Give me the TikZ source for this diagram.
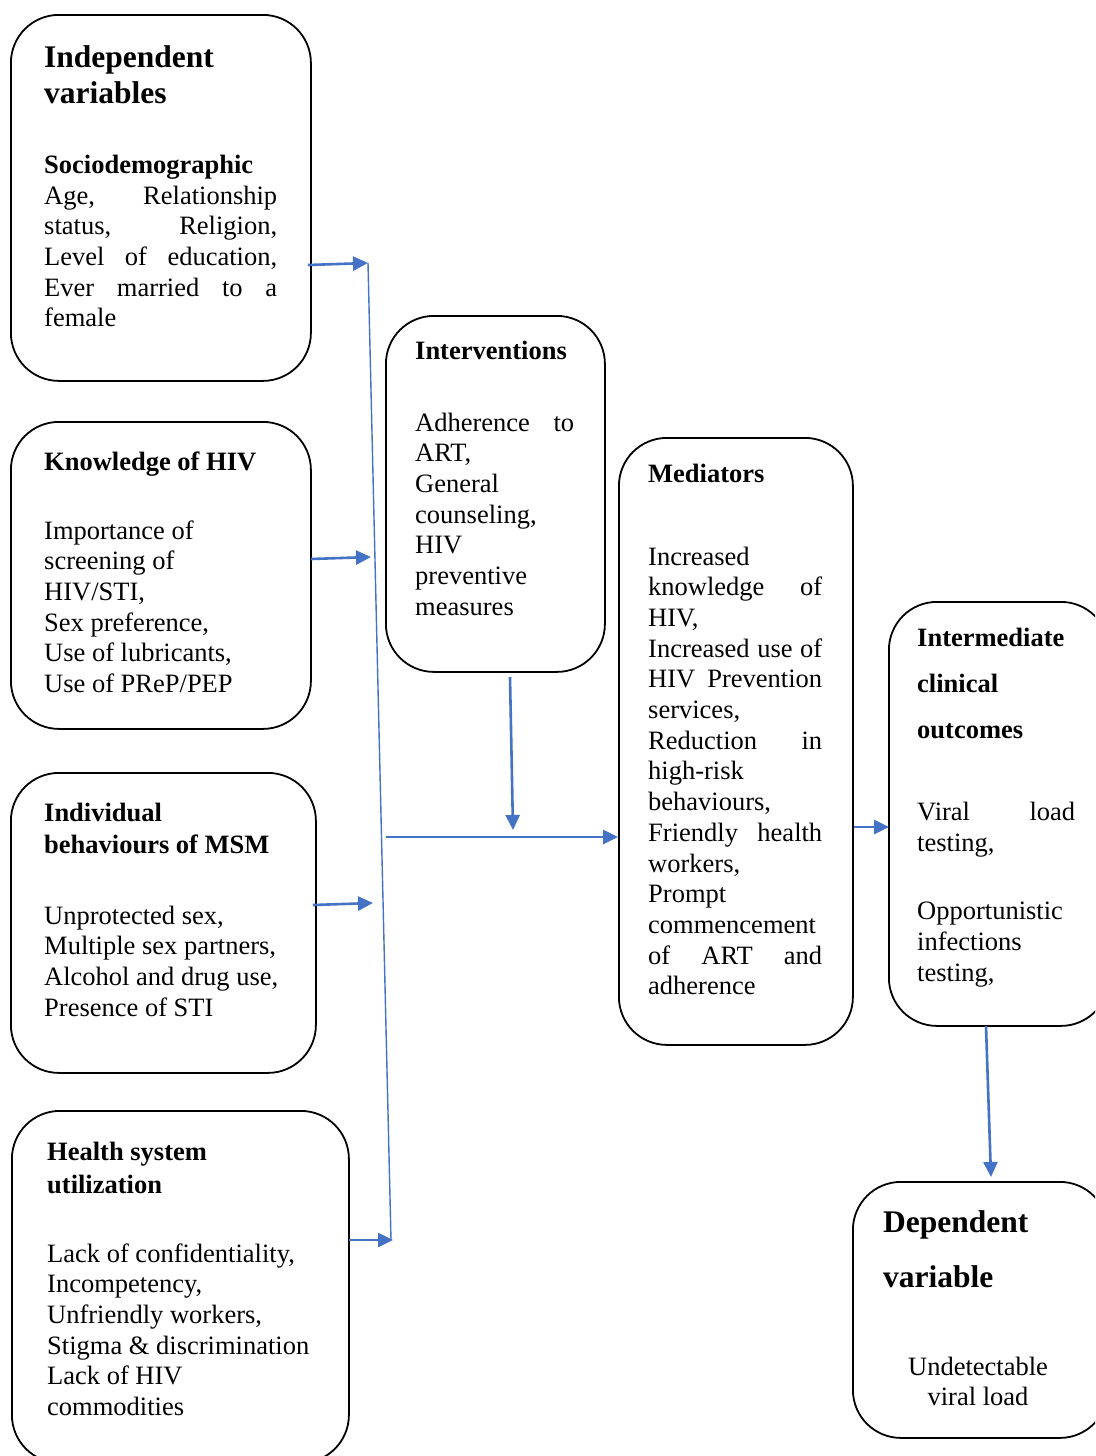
\documentclass[tikz,border=0pt]{standalone}
\usepackage{fontspec}
\setmainfont{Liberation Serif}
\usetikzlibrary{arrows.meta}
\definecolor{arrblue}{HTML}{4472C4}
\tikzset{
  box/.style={draw=black, line width=1.8pt, rounded corners=48pt, anchor=north west, inner sep=0pt},
  body/.style={anchor=base west, inner sep=0pt, font=\fontsize{26.5}{30.7}\selectfont},
  hd/.style={anchor=base west, inner sep=0pt, font=\fontsize{26.5}{30.7}\selectfont\bfseries},
  bighd/.style={anchor=base west, inner sep=0pt, font=\fontsize{31.5}{36}\selectfont\bfseries},
  conn/.style={draw=arrblue, line width=2.6pt, -{Triangle[length=15pt,width=14pt]}},
  thinconn/.style={draw=arrblue, line width=1.4pt},
}
\begin{document}
\begin{tikzpicture}[x=1pt,y=-1pt]
\clip (0,0) rectangle (1095,1456);
\fill[white] (0,0) rectangle (1095,1456);
% boxes
\node[box, minimum width=300pt, minimum height=366pt] (indep) at (10,14) {};
\node[box, minimum width=300pt, minimum height=307pt] (know) at (10,421) {};
\node[box, minimum width=305pt, minimum height=300pt] (indiv) at (10,772) {};
\node[box, minimum width=337pt, minimum height=352pt] (health) at (11,1110) {};
\node[box, minimum width=219pt, minimum height=356pt] (interv) at (385,315) {};
\node[box, minimum width=234pt, minimum height=607pt] (medi) at (618,437) {};
\node[box, minimum width=220pt, minimum height=424pt] (inter) at (888,601) {};
\node[box, minimum width=255pt, minimum height=256pt] (dep) at (852,1181) {};
% box 1
\node[bighd] (t1a) at (44,67) {Independent};
\node[bighd] (t1b) at (44,103) {variables};
\node[hd] (t1c) at (44,173) {Sociodemographic};
\foreach \t [count=\i] in {{\makebox[233pt][s]{Age, Relationship}},{\makebox[233pt][s]{status, Religion,}},{\makebox[233pt][s]{Level of education,}},{\makebox[233pt][s]{Ever married to a}},female}
  \node[body] (t1-\i) at (44,{204+(\i-1)*30.7}) {\t};
% box 2
\node[hd] (t2a) at (44,470) {Knowledge of HIV};
\foreach \t [count=\i] in {Importance of,screening of,{HIV/STI,},{Sex preference,},{Use of lubricants,},Use of PReP/PEP}
  \node[body] (t2-\i) at (44,{539+(\i-1)*30.7}) {\t};
% box 3
\node[hd] (t3a) at (44,821) {Individual};
\node[hd] (t3b) at (44,853) {behaviours of MSM};
\foreach \t [count=\i] in {{Unprotected sex,},{Multiple sex partners,},{Alcohol and drug use,},Presence of STI}
  \node[body] (t3-\i) at (44,{924+(\i-1)*30.7}) {\t};
% box 4
\node[hd] (t4a) at (47,1160) {Health system};
\node[hd] (t4b) at (47,1193) {utilization};
\foreach \t [count=\i] in {{Lack of confidentiality,},{Incompetency,},{Unfriendly workers,},Stigma \& discrimination,Lack of HIV,commodities}
  \node[body] (t4-\i) at (47,{1262+(\i-1)*30.7}) {\t};
% box 5
\node[hd] (t5a) at (415,359) {Interventions};
\foreach \t [count=\i] in {{\makebox[159pt][s]{Adherence to}},{ART,},General,{counseling,},HIV,preventive,measures}
  \node[body] (t5-\i) at (415,{431+(\i-1)*30.7}) {\t};
% box 6
\node[hd] (t6a) at (648,482) {Mediators};
\foreach \t [count=\i] in {Increased,{\makebox[174pt][s]{knowledge of}},{HIV,},{\makebox[174pt][s]{Increased use of}},{\makebox[174pt][s]{HIV Prevention}},{services,},{\makebox[174pt][s]{Reduction in}},high-risk,{behaviours,},{\makebox[174pt][s]{Friendly health}},{workers,},Prompt,commencement,{\makebox[174pt][s]{of ART and}},adherence}
  \node[body] (t6-\i) at (648,{565+(\i-1)*30.7}) {\t};
% box 7
\node[hd] (t7a) at (917,646) {Intermediate};
\node[hd] (t7b) at (917,692) {clinical};
\node[hd] (t7c) at (917,738) {outcomes};
\node[body] (t7-1) at (917,820) {\makebox[158pt][s]{Viral load}};
\node[body] (t7-2) at (917,851) {testing,};
\node[body] (t7-3) at (917,919) {Opportunistic};
\node[body] (t7-4) at (917,950) {infections};
\node[body] (t7-5) at (917,981) {testing,};
% box 8
\node[bighd] (t8a) at (883,1232) {Dependent};
\node[bighd] (t8b) at (883,1287) {variable};
\node[body, anchor=base] (t8-1) at (978,1375) {Undetectable};
\node[body, anchor=base] (t8-2) at (978,1405) {viral load};
% connector points
\coordinate (a1s) at (308,265);
\coordinate (a1e) at (368,263);
\coordinate (vb) at (391,1240);
\coordinate (a2s) at (311,559);
\coordinate (a2e) at (371,557);
\coordinate (a3s) at (313,905);
\coordinate (a3e) at (373,903);
\coordinate (a4s) at (349,1240);
\coordinate (a4e) at (393,1240);
\coordinate (hs) at (386,837);
\coordinate (he) at (618,837);
\coordinate (is) at (510,677);
\coordinate (ie) at (513,830);
\coordinate (ms) at (854,827);
\coordinate (me) at (889,827);
\coordinate (ds) at (986,1026);
\coordinate (de) at (991,1177);
% connectors
\draw[thinconn] (a1e) -- (vb);
\draw[conn] (a1s) -- (a1e);
\draw[conn] (a2s) -- (a2e);
\draw[conn] (a3s) -- (a3e);
\draw[conn] (a4s) -- (a4e);
\draw[conn] (hs) -- (he);
\draw[conn] (is) -- (ie);
\draw[conn] (ms) -- (me);
\draw[conn] (ds) -- (de);
\end{tikzpicture}
\end{document}
